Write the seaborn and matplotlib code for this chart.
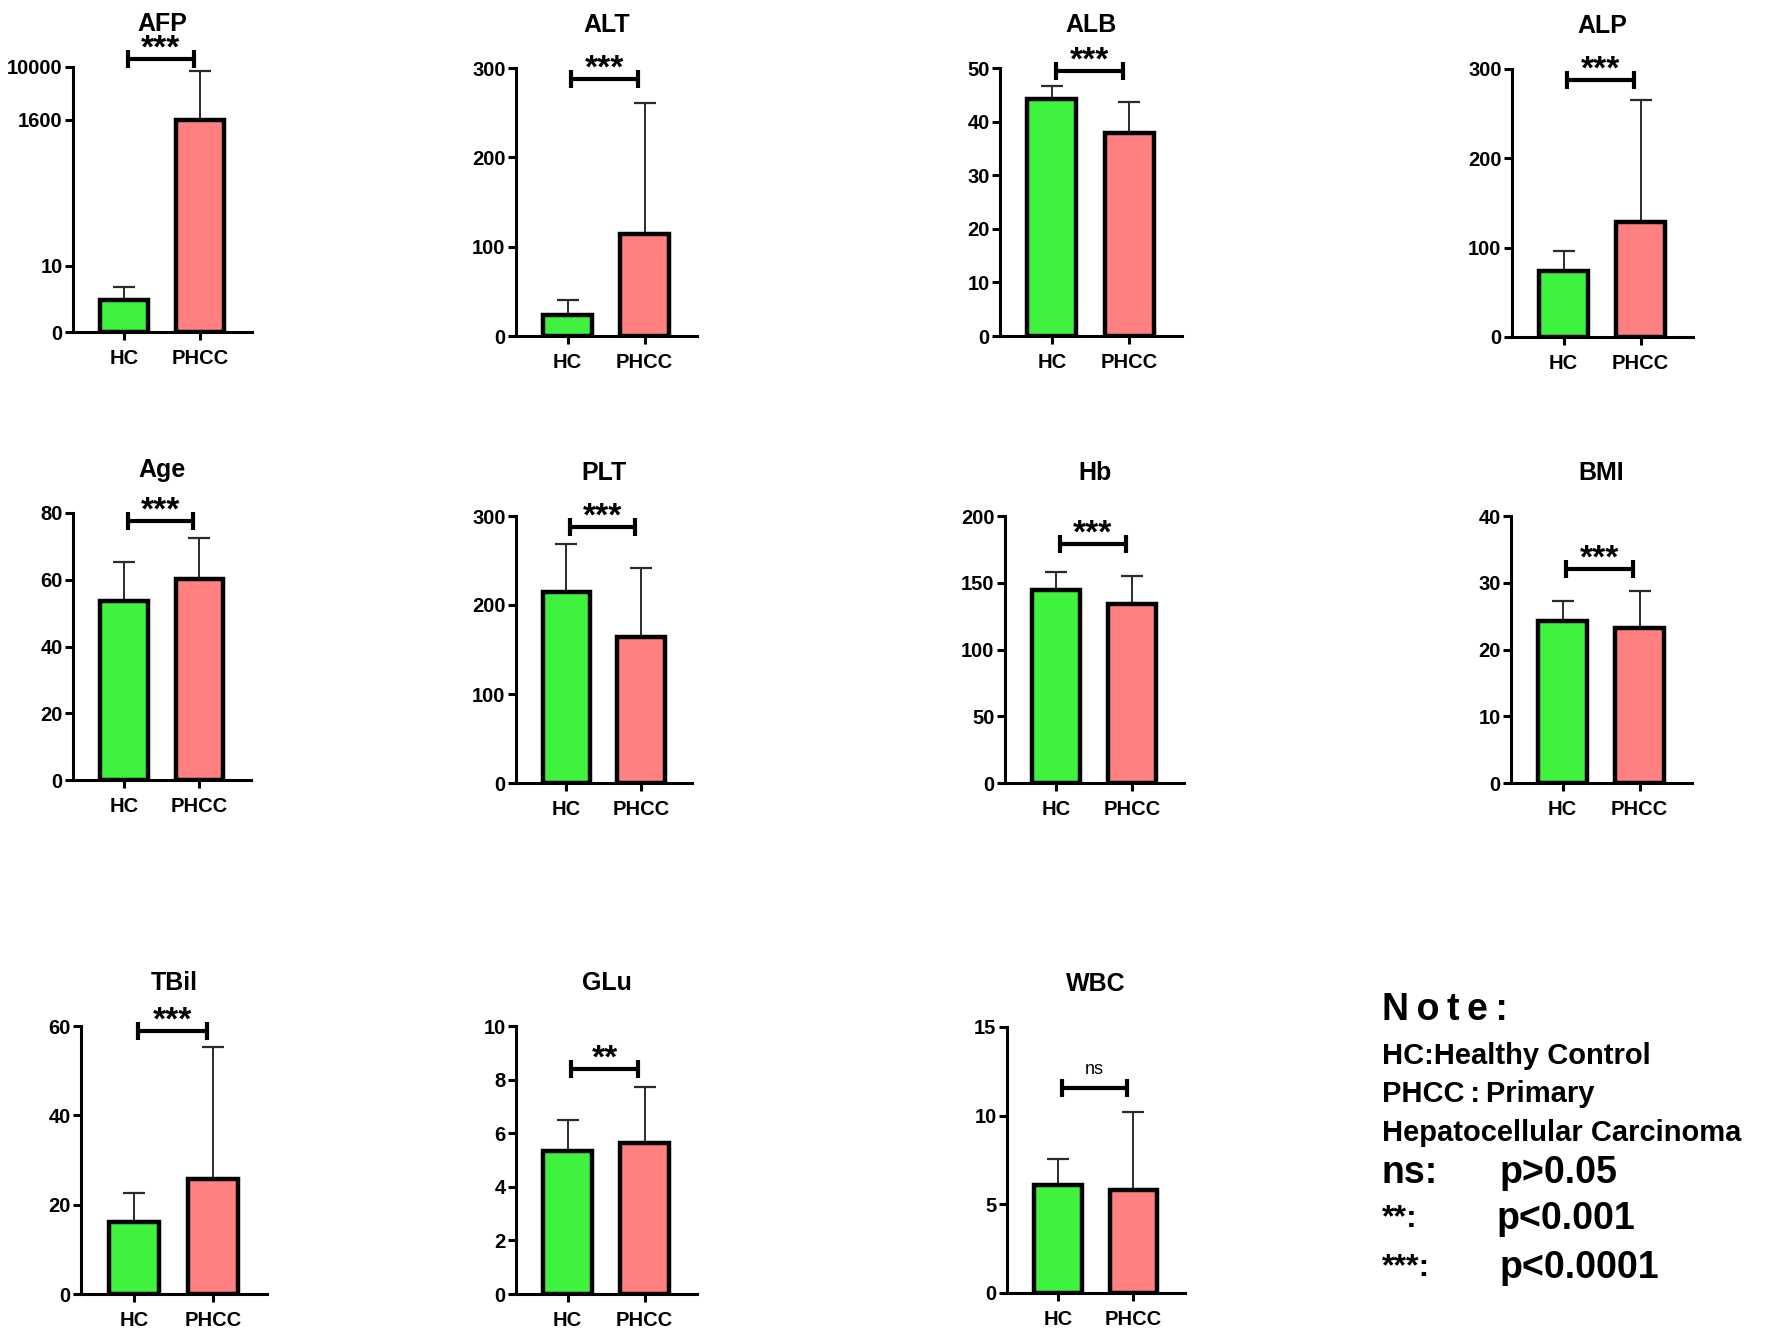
import numpy as np
import pandas as pd
import matplotlib
matplotlib.use("Agg")
import matplotlib.pyplot as plt
import seaborn as sns
from matplotlib.ticker import NullLocator

# ---- data ----
panels    = ["AFP", "ALT", "ALB", "ALP", "Age", "PLT", "Hb", "BMI", "TBil", "GLu", "WBC"]
groups    = ["HC", "PHCC"]
hc_mean   = [4.9, 23.0, 44.3, 74.0, 53.6, 215.0, 144.8, 24.3, 16.1, 5.32, 6.08]
hc_sd     = [1.9, 17.0, 2.4, 22.8, 11.8, 53.0, 13.2, 2.9, 6.5, 1.16, 1.46]
phcc_mean = [1600.0, 114.5, 37.9, 129.0, 60.2, 164.0, 134.0, 23.2, 25.8, 5.65, 5.82]
phcc_sd   = [7200.0, 146.5, 5.8, 136.6, 12.3, 77.5, 21.0, 5.6, 29.5, 2.08, 4.37]
yticks    = [[0, 10, 1600, 10000], [0, 100, 200, 300], [0, 10, 20, 30, 40, 50],
             [0, 100, 200, 300], [0, 20, 40, 60, 80], [0, 100, 200, 300],
             [0, 50, 100, 150, 200], [0, 10, 20, 30, 40], [0, 20, 40, 60],
             [0, 2, 4, 6, 8, 10], [0, 5, 10, 15]]
sig       = ["***"] * 9 + ["**", "ns"]

# ---- layout (pixels in a 1772x1341 canvas): left, right, x-axis y, top y ----
W, H = 1772, 1341
boxes = [(73, 252, 332, 67), (516, 697, 336, 68), (1000, 1182, 336, 68), (1512, 1693, 337, 69),
         (73, 251, 780, 513), (516, 692, 783, 516), (1005, 1184, 783, 516), (1511, 1692, 783, 516),
         (81, 267, 1294, 1026), (516, 697, 1294, 1026), (1007, 1185, 1293, 1027)]
bracket_frac = [1.03, 0.96, 0.99, 0.96, 0.97, 0.96, 0.895, 0.80, 0.98, 0.84, 0.77]

sns.set_style("ticks")
plt.rcParams["font.family"] = ["Liberation Sans", "DejaVu Sans"]
plt.rcParams["font.weight"] = "bold"
for k in ["text.color", "axes.labelcolor", "xtick.color", "ytick.color", "axes.edgecolor"]:
    plt.rcParams[k] = "black"

colors = ["#3ef23e", "#ff8080"]

fig = plt.figure(figsize=(W / 100, H / 100), dpi=100)

for i, name in enumerate(panels):
    l, r, b, t = boxes[i]
    ax = fig.add_axes([l / W, 1 - b / H, (r - l) / W, (b - t) / H])
    df = pd.DataFrame({"group": groups, "value": [hc_mean[i], phcc_mean[i]]})
    sns.barplot(data=df, x="group", y="value", hue="group", palette=colors, legend=False,
                width=0.63, saturation=1, edgecolor="black", linewidth=3.2,
                errorbar=None, ax=ax, zorder=2)
    ax.errorbar([0, 1], [hc_mean[i], phcc_mean[i]],
                yerr=[[0, 0], [hc_sd[i], phcc_sd[i]]], fmt="none",
                ecolor="#2a2a2a", elinewidth=1.4, capsize=8, capthick=1.6, zorder=1)
    if name == "AFP":
        # broken-looking axis: linear up to 10, log above
        ax.set_yscale("symlog", linthresh=10, linscale=0.9)
    ax.set_ylim(0, yticks[i][-1])
    ax.set_yticks(yticks[i])
    ax.set_yticklabels([str(v) for v in yticks[i]])
    ax.yaxis.set_minor_locator(NullLocator())
    ax.set_xlim(-0.67, 1.68)
    ax.set_xlabel("")
    ax.set_ylabel("")
    sns.despine(ax=ax)
    for s in ["left", "bottom"]:
        ax.spines[s].set_linewidth(2.2)
    ax.tick_params(axis="both", length=6, width=2.2, labelsize=14.5)
    ax.tick_params(axis="y", pad=1.5)
    ax.tick_params(axis="x", pad=6)
    for lab in ax.get_xticklabels() + ax.get_yticklabels():
        lab.set_fontweight("bold")
    ax.set_title(name, fontsize=18, fontweight="bold", pad=26)

    # significance bracket
    yb = bracket_frac[i]
    tr = ax.get_xaxis_transform()
    ax.plot([0.05, 0.92], [yb, yb], transform=tr, color="black", lw=3,
            marker="|", markersize=13, markeredgewidth=3, clip_on=False)
    if sig[i] == "ns":
        ax.annotate("ns", (0.485, yb), xycoords=tr, xytext=(0, 7), textcoords="offset points",
                    ha="center", va="bottom", fontsize=13, fontweight="normal", annotation_clip=False)
    else:
        ax.annotate(sig[i], (0.485, yb), xycoords=tr, xytext=(0, 1), textcoords="offset points",
                    ha="center", va="baseline", fontsize=24, fontweight="bold", annotation_clip=False)

# ---- note block ----
def ftext(x, y, s, **kw):
    fig.text(x / W, 1 - y / H, s, va="center", ha="left", fontweight="bold", **kw)

ftext(1382, 1010, "N\u2009o\u2009t\u2009e\u2009:", fontsize=27)
ftext(1382, 1056, "HC:Healthy Control", fontsize=21)
ftext(1382, 1094, "PHCC\u2009:\u2009Primary", fontsize=21)
ftext(1382, 1133, "Hepatocellular Carcinoma", fontsize=21)
ftext(1382, 1173, "ns:", fontsize=27)
ftext(1500, 1173, "p>0.05", fontsize=27)
ftext(1382, 1219, "**:", fontsize=23)
ftext(1497, 1219, "p<0.001", fontsize=27)
ftext(1382, 1268, "***:", fontsize=23)
ftext(1500, 1268, "p<0.0001", fontsize=27)

fig.savefig("out.png", dpi=100)
